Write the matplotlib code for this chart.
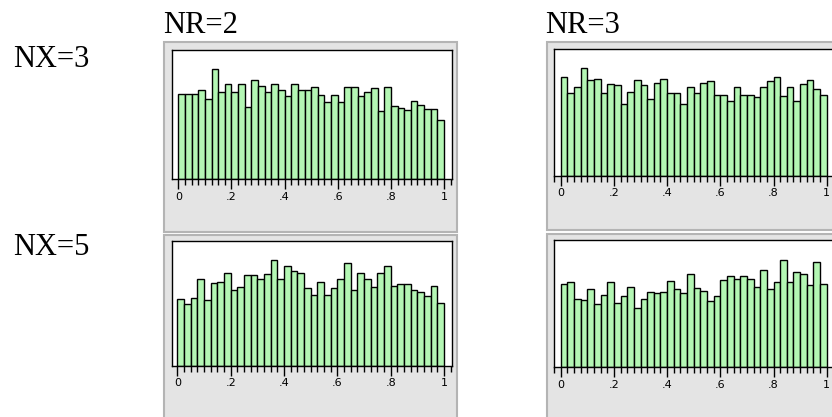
import numpy as np
import matplotlib
matplotlib.use("Agg")
import matplotlib.pyplot as plt
from matplotlib.patches import Rectangle
from matplotlib.ticker import MultipleLocator, FixedLocator, FixedFormatter

W, H = 832, 417

# ---- data (bar heights, arbitrary units; 40 bins on [0, 1]) ----
bin_edges = np.linspace(0, 1, 41)
nr2_nx3 = [255, 255, 255, 268, 239, 329, 260, 284, 260, 284, 217, 297, 280, 260, 284, 268, 248, 284, 268, 268,
           276, 251, 231, 252, 231, 276, 276, 248, 260, 272, 203, 276, 219, 212, 207, 235, 223, 211, 211, 178]
nr3_nx3 = [295, 247, 267, 324, 287, 291, 247, 275, 271, 215, 251, 287, 271, 231, 279, 291, 247, 247, 215, 267,
           247, 279, 283, 243, 243, 223, 267, 243, 243, 235, 267, 283, 295, 239, 267, 223, 275, 287, 259, 243]
nr2_nx5 = [201, 185, 205, 261, 197, 249, 253, 280, 229, 237, 273, 273, 261, 277, 319, 261, 300, 284, 280, 233,
           213, 253, 213, 233, 261, 308, 229, 280, 261, 237, 280, 300, 241, 245, 245, 229, 221, 209, 241, 189]
nr3_nx5 = [251, 255, 206, 201, 234, 190, 218, 255, 194, 214, 242, 178, 206, 227, 223, 226, 259, 234, 222, 279,
           239, 230, 198, 214, 262, 275, 266, 275, 266, 242, 291, 234, 255, 323, 255, 287, 279, 246, 315, 251]
col_labels = ["NR=2", "NR=3"]
row_labels = ["NX=3", "NX=5"]
tick_vals = [0, 0.2, 0.4, 0.6, 0.8, 1.0]
tick_texts = ["0", ".2", ".4", ".6", ".8", "1"]

fig = plt.figure(figsize=(W / 100, H / 100), dpi=100)
fig.patch.set_facecolor("white")

def fx(x):
    return x / W

def fy(y):
    return 1 - y / H

def gray_panel(x0, y0, x1, y1):
    r = Rectangle((fx(x0), fy(y1)), fx(x1) - fx(x0), fy(y0) - fy(y1),
                  transform=fig.transFigure, facecolor="#e4e4e4",
                  edgecolor="#b4b4b4", linewidth=1.5, zorder=0)
    fig.add_artist(r)

# panel geometry in pixels: gray box, plot box (left, top, baseline), data x0/x1 pixel, ymax
panels = [
    dict(vals=nr2_nx3, gray=(164, 42, 457, 232), box=(172, 50, 179), x01=(178.3, 444.0), ymax=387),
    dict(vals=nr3_nx3, gray=(547, 42, 840, 230), box=(554, 49, 175.7), x01=(560.7, 826.7), ymax=380),
    dict(vals=nr2_nx5, gray=(164, 235, 457, 425), box=(171.7, 241, 366), x01=(177.3, 444.0), ymax=375),
    dict(vals=nr3_nx5, gray=(547, 234, 840, 425), box=(554, 240, 367.3), x01=(560.7, 826.7), ymax=382),
]

for p in panels:
    gray_panel(*p["gray"])
    left, top, base = p["box"]
    x0p, x1p = p["x01"]
    unit = x1p - x0p
    xl = (left - x0p) / unit
    xr = xl + (452 - 172) / unit
    right = left + (xr - xl) * unit
    ax = fig.add_axes([fx(left), fy(base), fx(right) - fx(left), fy(top) - fy(base)])
    ax.set_facecolor("white")
    ax.bar(bin_edges[:-1], p["vals"], width=0.025, align="edge",
           color="#b4f7b4", edgecolor="black", linewidth=1.0)
    ax.set_xlim(xl, xr)
    ax.set_ylim(0, p["ymax"])
    ax.set_yticks([])
    for s in ax.spines.values():
        s.set_color("black")
        s.set_linewidth(1.0)
    ax.xaxis.set_major_locator(FixedLocator(tick_vals))
    ax.xaxis.set_major_formatter(FixedFormatter(tick_texts))
    ax.xaxis.set_minor_locator(MultipleLocator(0.025))
    ax.tick_params(axis="x", which="major", direction="out", length=7, width=1,
                   labelsize=8, pad=2, colors="black")
    ax.tick_params(axis="x", which="minor", direction="out", length=4, width=1, colors="black")
    ax.set_zorder(2)

serif = ["Liberation Serif", "DejaVu Serif"]
fig.text(fx(163), fy(33), col_labels[0], fontsize=22, family=serif, ha="left", va="baseline")
fig.text(fx(545), fy(33), col_labels[1], fontsize=22, family=serif, ha="left", va="baseline")
fig.text(fx(12.7), fy(66.7), row_labels[0], fontsize=22, family=serif, ha="left", va="baseline")
fig.text(fx(12.7), fy(255), row_labels[1], fontsize=22, family=serif, ha="left", va="baseline")

fig.savefig("out.png", dpi=100, facecolor="white")
